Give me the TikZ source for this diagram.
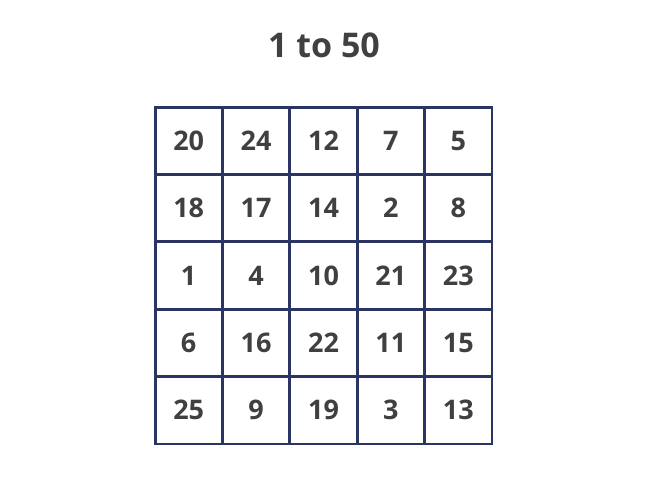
\documentclass[tikz,border=0pt]{standalone}
\usepackage{fontspec}
\setmainfont{Open Sans}
\definecolor{gridc}{HTML}{2A3563}
\definecolor{txt}{HTML}{404040}
\begin{document}
\begin{tikzpicture}[x=1pt,y=-1pt,
  cell/.style={draw=gridc,line width=1.6pt,minimum width=66pt,minimum height=66pt,inner sep=0pt,
    text=txt,font=\bfseries\fontsize{27}{30}\selectfont},
  ttl/.style={text=txt,font=\bfseries\fontsize{34}{40}\selectfont}]
\useasboundingbox (0,0) rectangle (650,488);
\node[ttl] (title) at (324,45) {1 to 50};
\def\cw{67.4}
\foreach \r/\row in {0/{20,24,12,7,5},1/{18,17,14,2,8},2/{1,4,10,21,23},3/{6,16,22,11,15},4/{25,9,19,3,13}}{
  \foreach \v [count=\c from 0] in \row {
    \node[cell] (c\r\c) at ({155+\cw*(\c+0.5)},{107+\cw*(\r+0.5)}) {\v};
  }
}
\draw[gridc,line width=1.2pt] (c00.north west) rectangle (c44.south east);
\end{tikzpicture}
\end{document}
